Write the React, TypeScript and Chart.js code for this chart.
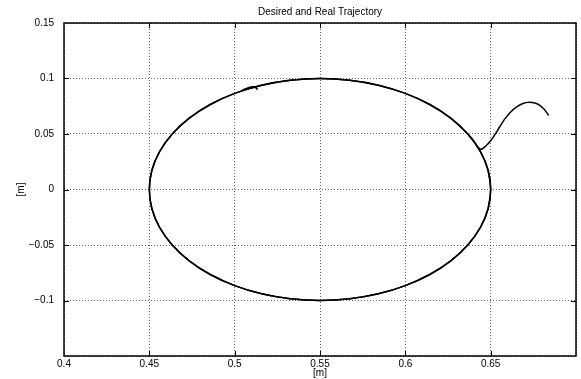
import React, { useEffect, useRef } from "react";
import { Chart, registerables } from "chart.js";

Chart.register(...registerables);

const titleText = "Desired and Real Trajectory";
const xAxisLabel = "[m]";
const yAxisLabel = "[m]";

const xTickValues = [0.4, 0.45, 0.5, 0.55, 0.6, 0.65, 0.7];
const xTickLabels = ["0.4", "0.45", "0.5", "0.55", "0.6", "0.65", ""];
const yTickValues = [-0.15, -0.1, -0.05, 0, 0.05, 0.1, 0.15];
const yTickLabels = ["", "\u22120.1", "\u22120.05", "0", "0.05", "0.1", "0.15"];

// Desired trajectory (circle)
const desiredX = [
  0.6485, 0.65, 0.6485, 0.644, 0.6366, 0.6266, 0.6143, 0.6, 0.5842, 0.5674, 0.55,
  0.5326, 0.5158, 0.5, 0.4857, 0.4734, 0.4634, 0.456, 0.4515, 0.45, 0.4515, 0.456,
  0.4634, 0.4734, 0.4857, 0.5, 0.5158, 0.5326, 0.55, 0.5674, 0.5842, 0.6, 0.6143,
  0.6266, 0.6366, 0.644, 0.6485, 0.65, 0.6485,
];
const desiredY = [
  -0.0174, 0, 0.0174, 0.0342, 0.05, 0.0643, 0.0766, 0.0866, 0.094, 0.0985, 0.1,
  0.0985, 0.094, 0.0866, 0.0766, 0.0643, 0.05, 0.0342, 0.0174, 0, -0.0174, -0.0342,
  -0.05, -0.0643, -0.0766, -0.0866, -0.094, -0.0985, -0.1, -0.0985, -0.094, -0.0866,
  -0.0766, -0.0643, -0.05, -0.0342, -0.0174, 0, 0.0174,
];

// Real trajectory
const realX = [
  0.684, 0.6812, 0.6775, 0.673, 0.6685, 0.6633, 0.659, 0.6555, 0.6525, 0.65, 0.647,
  0.6442, 0.642, 0.6395,
  0.6366, 0.6266, 0.6143, 0.6, 0.5842, 0.5674, 0.55, 0.5326, 0.5158, 0.5, 0.4857,
  0.4734, 0.4634, 0.456, 0.4515, 0.45, 0.4515, 0.456, 0.4634, 0.4734, 0.4857, 0.5,
  0.5158, 0.5326, 0.55, 0.5674, 0.5842, 0.6, 0.6143, 0.6266, 0.6366, 0.644, 0.6485,
  0.65, 0.6485, 0.644, 0.6366, 0.6266, 0.6143, 0.6, 0.5842, 0.5674, 0.55, 0.5326,
  0.5158,
  0.51, 0.504, 0.508, 0.5115, 0.5134,
];
const realY = [
  0.0667, 0.0725, 0.077, 0.0786, 0.0772, 0.0722, 0.065, 0.057, 0.0495, 0.044, 0.039,
  0.0362, 0.0395, 0.045,
  0.05, 0.0643, 0.0766, 0.0866, 0.094, 0.0985, 0.1, 0.0985, 0.094, 0.0866, 0.0766,
  0.0643, 0.05, 0.0342, 0.0174, 0, -0.0174, -0.0342, -0.05, -0.0643, -0.0766, -0.0866,
  -0.094, -0.0985, -0.1, -0.0985, -0.094, -0.0866, -0.0766, -0.0643, -0.05, -0.0342,
  -0.0174, 0, 0.0174, 0.0342, 0.05, 0.0643, 0.0766, 0.0866, 0.094, 0.0985, 0.1,
  0.0985, 0.094,
  0.0917, 0.089, 0.0918, 0.0925, 0.09,
];

const FONT = '"Liberation Sans", Arial, Helvetica, sans-serif';

const framePlugin = {
  id: "matlabFrame",
  afterDraw(chart: any) {
    const { ctx, chartArea } = chart;
    const { left, right, top, bottom } = chartArea;
    const xs = chart.scales.x;
    const ys = chart.scales.y;
    ctx.save();
    ctx.strokeStyle = "#000";
    ctx.lineWidth = 1;
    ctx.beginPath();
    xs.ticks.forEach((t: any) => {
      const px = Math.round(xs.getPixelForValue(t.value)) + 0.5;
      if (px > left + 2 && px < right - 2) {
        ctx.moveTo(px, bottom);
        ctx.lineTo(px, bottom - 5);
        ctx.moveTo(px, top);
        ctx.lineTo(px, top + 5);
      }
    });
    ys.ticks.forEach((t: any) => {
      const py = Math.round(ys.getPixelForValue(t.value)) + 0.5;
      if (py > top + 2 && py < bottom - 2) {
        ctx.moveTo(left, py);
        ctx.lineTo(left + 5, py);
        ctx.moveTo(right, py);
        ctx.lineTo(right - 5, py);
      }
    });
    ctx.stroke();
    ctx.lineWidth = 1.5;
    ctx.strokeRect(left, top, right - left, bottom - top);
    ctx.fillStyle = "#000";
    ctx.font = "10px " + FONT;
    ctx.textAlign = "center";
    ctx.textBaseline = "middle";
    ctx.fillText(titleText, (left + right) / 2, 12);
    ctx.restore();
  },
};

export default function App() {
  const canvasRef = useRef<HTMLCanvasElement | null>(null);

  useEffect(() => {
    document.body.style.margin = "0";
    const canvas = canvasRef.current;
    if (!canvas) return;
    const desired = desiredX.map((x, i) => ({ x, y: desiredY[i] }));
    const real = realX.map((x, i) => ({ x, y: realY[i] }));
    const chart = new Chart(canvas, {
      type: "scatter",
      data: {
        datasets: [
          {
            label: "Desired",
            data: desired,
            showLine: true,
            borderColor: "#000",
            borderWidth: 1.5,
            pointRadius: 0,
            tension: 0.335,
          },
          {
            label: "Real",
            data: real,
            showLine: true,
            borderColor: "#000",
            borderWidth: 1.5,
            pointRadius: 0,
            tension: 0.3,
          },
        ],
      },
      options: {
        animation: false,
        responsive: true,
        maintainAspectRatio: false,
        layout: { padding: { top: 23, right: 5, left: 0, bottom: 0 } },
        plugins: {
          legend: { display: false },
          tooltip: { enabled: false },
          title: { display: false },
        },
        scales: {
          x: {
            type: "linear",
            min: 0.4,
            max: 0.7,
            afterBuildTicks: (s: any) => {
              s.ticks = xTickValues.map((v) => ({ value: v }));
            },
            afterFit: (s: any) => {
              s.height = 23;
            },
            ticks: {
              callback: (_v: any, i: number) => xTickLabels[i],
              color: "#000",
              font: { family: FONT, size: 10 },
              padding: 2,
              maxRotation: 0,
              autoSkip: false,
            },
            grid: {
              color: "rgba(0,0,0,0.6)",
              lineWidth: 1,
              drawTicks: false,
            },
            border: { display: false, dash: [1, 2] },
            title: {
              display: true,
              text: xAxisLabel,
              color: "#000",
              font: { family: FONT, size: 10 },
              padding: { top: 0, bottom: 0 },
            },
          },
          y: {
            type: "linear",
            min: -0.15,
            max: 0.15,
            afterBuildTicks: (s: any) => {
              s.ticks = yTickValues.map((v) => ({ value: v }));
            },
            afterFit: (s: any) => {
              s.width = 64;
            },
            ticks: {
              callback: (_v: any, i: number) => yTickLabels[i],
              color: "#000",
              font: { family: FONT, size: 10 },
              padding: 10,
              autoSkip: false,
            },
            grid: {
              color: "rgba(0,0,0,0.6)",
              lineWidth: 1,
              drawTicks: false,
            },
            border: { display: false, dash: [1, 2] },
            title: {
              display: true,
              text: yAxisLabel,
              color: "#000",
              font: { family: FONT, size: 10 },
              padding: { top: 15, bottom: 0 },
            },
          },
        },
      },
      plugins: [framePlugin],
    });
    return () => chart.destroy();
  }, []);

  return (
    <div style={{ position: "absolute", left: 0, top: 0, width: 581, height: 379 }}>
      <canvas ref={canvasRef} />
    </div>
  );
}
